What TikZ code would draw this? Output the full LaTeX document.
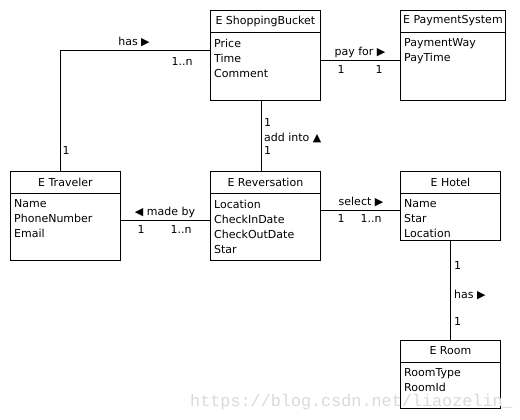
\documentclass[tikz,border=0pt]{standalone}
\usepackage{fontspec}
\setmainfont{DejaVu Sans}
\newfontfamily\wmfont{Liberation Mono}
\usetikzlibrary{calc}
\tikzset{
  x=1pt,y=-1pt,
  every node/.style={font=\fontsize{11}{15}\selectfont, inner sep=0pt},
  entbox/.style={draw, line width=0.8pt, anchor=north west, minimum height=#1},
  conn/.style={line width=0.8pt},
  lbl/.style={font=\fontsize{11}{12}\selectfont},
  attrs/.style={anchor=north west, align=left},
}
\newcommand{\entity}[7]{% name, x, y, w, h, title, attrs
  \node[entbox=#5, minimum width=#4] (#1) at (#2,#3) {};
  \draw[conn] ($(#1.north west)+(0,22)$) -- ($(#1.north east)+(0,22)$);
  \node (#1-t) at ($(#1.north)+(0,11)$) {#6};
  \node[attrs] (#1-a) at ($(#1.north west)+(4,28.6)$) {#7};
}
\begin{document}
\begin{tikzpicture}
\useasboundingbox (0,0) rectangle (520,420);
\entity{sb}{210}{10}{110pt}{90pt}{E ShoppingBucket}{Price\\Time\\Comment}
\entity{ps}{400}{10}{105pt}{90pt}{E PaymentSystem}{PaymentWay\\PayTime}
\entity{tr}{10}{171}{110pt}{89pt}{E Traveler}{Name\\PhoneNumber\\Email}
\entity{rv}{210}{171}{110pt}{89pt}{E Reversation}{Location\\CheckInDate\\CheckOutDate\\Star}
\entity{ht}{400}{171}{100pt}{69pt}{E Hotel}{Name\\Star\\Location}
\entity{rm}{400}{340}{100pt}{68pt}{E Room}{RoomType\\RoomId}

% has (Traveler - ShoppingBucket)
\coordinate (c1) at ($(tr.north west)+(50,0)$);
\coordinate (c2) at ($(sb.north west)+(0,40)$);
\draw[conn] (c1) |- (c2);
\node[lbl] (l1) at (134,42) {has ▶};
\node[lbl] (l2) at (182,61) {1..n};
\node[lbl] (l3) at (66,150) {1};

% pay for
\coordinate (c3) at ($(sb.north east)+(0,50)$);
\coordinate (c4) at ($(ps.north west)+(0,50)$);
\draw[conn] (c3) -- (c4);
\node[lbl] (l4) at (360,52) {pay for ▶};
\node[lbl] (l5) at (341,69) {1};
\node[lbl] (l6) at (379,69) {1};

% add into
\coordinate (c5) at ($(sb.south west)+(51,0)$);
\coordinate (c6) at ($(rv.north west)+(51,0)$);
\draw[conn] (c5) -- (c6);
\node[lbl,anchor=west] (l7) at (264,122) {1};
\node[lbl,anchor=west] (l8) at (264,138) {add into ▲};
\node[lbl,anchor=west] (l9) at (264,150) {1};

% made by
\coordinate (c7) at ($(tr.north east)+(0,49)$);
\coordinate (c8) at ($(rv.north west)+(0,49)$);
\draw[conn] (c7) -- (c8);
\node[lbl] (l10) at (165,212) {◀ made by};
\node[lbl] (l11) at (141,229) {1};
\node[lbl] (l12) at (181,229) {1..n};

% select
\coordinate (c9) at ($(rv.north east)+(0,39)$);
\coordinate (c10) at ($(ht.north west)+(0,39)$);
\draw[conn] (c9) -- (c10);
\node[lbl] (l13) at (361,202) {select ▶};
\node[lbl] (l14) at (341,218) {1};
\node[lbl] (l15) at (371,218) {1..n};

% has (Hotel - Room)
\coordinate (c11) at ($(ht.south west)+(50,0)$);
\coordinate (c12) at ($(rm.north west)+(50,0)$);
\draw[conn] (c11) -- (c12);
\node[lbl,anchor=west] (l16) at (454,265) {1};
\node[lbl,anchor=west] (l17) at (454,295) {has ▶};
\node[lbl,anchor=west] (l18) at (454,321) {1};

% watermark
\node[font=\wmfont\fontsize{16.8}{17}\selectfont, text=black!15, anchor=base west] (wm) at (190,406) {https://blog.csdn.net/liaozelin\_};
\end{tikzpicture}
\end{document}
